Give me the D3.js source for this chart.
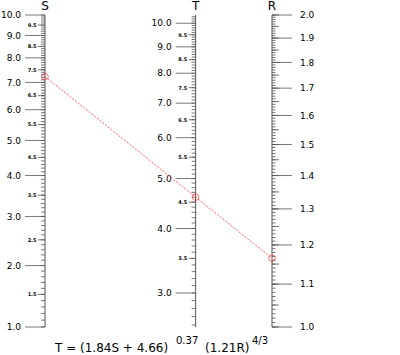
<!DOCTYPE html>
<html>
<head>
<meta charset="utf-8">
<script src="https://cdn.jsdelivr.net/npm/d3@7"></script>
<style>
  body { margin: 0; background: #fff; }
  svg { display: block; font-family: "DejaVu Sans", sans-serif; }
</style>
</head>
<body>
<svg id="nomo" width="400" height="355"></svg>
<script>
// Scale values
const sMajor = [1, 2, 3, 4, 5, 6, 7, 8, 9, 10];
const sHalf = [1.5, 2.5, 3.5, 4.5, 5.5, 6.5, 7.5, 8.5, 9.5];
const tMajor = [3, 4, 5, 6, 7, 8, 9, 10];
const tHalf = [3.5, 4.5, 5.5, 6.5, 7.5, 8.5, 9.5];
const rMajor = [1.0, 1.1, 1.2, 1.3, 1.4, 1.5, 1.6, 1.7, 1.8, 1.9, 2.0];
const sRange = [1, 10];
const rRange = [1, 2];

// T = (a*S + b)^p * (c*R)^q
const sCoef = [1.84, 4.66];
const sExp = 0.37;
const rCoef = 1.21;
const rExp = 4 / 3;

// Isopleth drawn on the chart
const isoS = 7.23;
const isoR = 1.165;

const svg = d3.select("#nomo");
const yTop = 15, yBottom = 327;
const xS = 45, xR = 272;

const fS = s => sExp * Math.log10(sCoef[0] * s + sCoef[1]);
const fR = r => rExp * Math.log10(rCoef * r);

const sLin = d3.scaleLinear().domain([fS(sRange[0]), fS(sRange[1])]).range([yBottom, yTop]);
const rLin = d3.scaleLinear().domain([fR(rRange[0]), fR(rRange[1])]).range([yBottom, yTop]);
const tMin = Math.pow(10, fS(sRange[0]) + fR(rRange[0]));
const tMax = Math.pow(10, fS(sRange[1]) + fR(rRange[1]));
const yT = d3.scaleLog().domain([tMin, tMax]).range([yBottom, yTop]);
const yS = s => sLin(fS(s));
const yR = r => rLin(fR(r));

// middle scale sits where the three scales stay collinear
const mS = (yBottom - yTop) / (fS(sRange[1]) - fS(sRange[0]));
const mR = (yBottom - yTop) / (fR(rRange[1]) - fR(rRange[0]));
const xT = xS + (xR - xS) * mS / (mS + mR);

const fmt = d3.format(".1f");
const axisColor = "#555";

function drawAxis(x, yFn, dir, tickSets, labelSets, title) {
  const g = svg.append("g");
  tickSets.forEach(t => {
    g.selectAll(null)
      .data(t.values)
      .enter()
      .append("line")
      .attr("x1", x)
      .attr("x2", x + dir * t.len)
      .attr("y1", d => yFn(d))
      .attr("y2", d => yFn(d))
      .attr("stroke", t.color || axisColor)
      .attr("stroke-width", t.width || 0.8);
  });
  g.append("line")
    .attr("x1", x).attr("x2", x)
    .attr("y1", yTop).attr("y2", yBottom)
    .attr("stroke", axisColor)
    .attr("stroke-width", 1);
  labelSets.forEach(l => {
    g.selectAll(null)
      .data(l.values)
      .enter()
      .append("text")
      .attr("x", x + dir * l.offset)
      .attr("y", d => yFn(d))
      .attr("dy", "0.36em")
      .attr("text-anchor", dir < 0 ? "end" : "start")
      .style("font-size", l.size + "px")
      .style("font-weight", l.weight || "normal")
      .text(d => fmt(d));
  });
  g.append("text")
    .attr("x", x)
    .attr("y", 10)
    .attr("text-anchor", "middle")
    .style("font-size", "12px")
    .text(title);
}

const sMinor = d3.range(10, 101).map(i => i / 10);
const tMinor = d3.range(26, 104).map(i => i / 10).filter(v => v <= tMax);
const rMinor = d3.range(100, 201).map(i => i / 100);
const rMid = d3.range(20, 41).map(i => i / 20);

drawAxis(xS, yS, -1,
  [{ values: sMinor, len: 4 }, { values: sHalf, len: 7 }, { values: sMajor, len: 20 }],
  [{ values: sMajor, offset: 24, size: 9 }, { values: sHalf, offset: 8.5, size: 5, weight: "bold" }],
  "S");

drawAxis(xT, v => yT(v), -1,
  [{ values: tMinor, len: 4 }, { values: tHalf, len: 7 }, { values: tMajor, len: 20 }],
  [{ values: tMajor, offset: 24, size: 9 }, { values: tHalf, offset: 8.5, size: 5, weight: "bold" }],
  "T");

drawAxis(xR, yR, 1,
  [{ values: rMinor, len: 3.5 }, { values: rMid, len: 7 }, { values: rMajor, len: 20 }],
  [{ values: rMajor, offset: 28, size: 9 }],
  "R");

// Isopleth
const isoT = Math.pow(10, fS(isoS) + fR(isoR));
const isoPts = [[xS, yS(isoS)], [xT, yT(isoT)], [xR, yR(isoR)]];

svg.append("path")
  .datum([isoPts[0], isoPts[2]])
  .attr("d", d3.line())
  .attr("fill", "none")
  .attr("stroke", "#f33")
  .attr("stroke-width", 0.8)
  .attr("stroke-dasharray", "2,1.5");

svg.selectAll(".iso")
  .data(isoPts)
  .enter()
  .append("circle")
  .attr("class", "iso")
  .attr("cx", d => d[0])
  .attr("cy", d => d[1])
  .attr("r", 3.3)
  .attr("fill", "none")
  .attr("stroke", "#f33")
  .attr("stroke-width", 0.7);

// Equation
const eq = svg.append("g").style("fill", "#000");
eq.append("text").attr("x", 55).attr("y", 352).style("font-size", "12px")
  .text(`T = (${sCoef[0]}S + ${sCoef[1]})`);
eq.append("text").attr("x", 176).attr("y", 344).style("font-size", "10px")
  .text(sExp);
eq.append("text").attr("x", 205).attr("y", 352).style("font-size", "12px")
  .text(`(${rCoef}R)`);
eq.append("text").attr("x", 252).attr("y", 344).style("font-size", "10px")
  .text("4/3");
</script>
</body>
</html>
